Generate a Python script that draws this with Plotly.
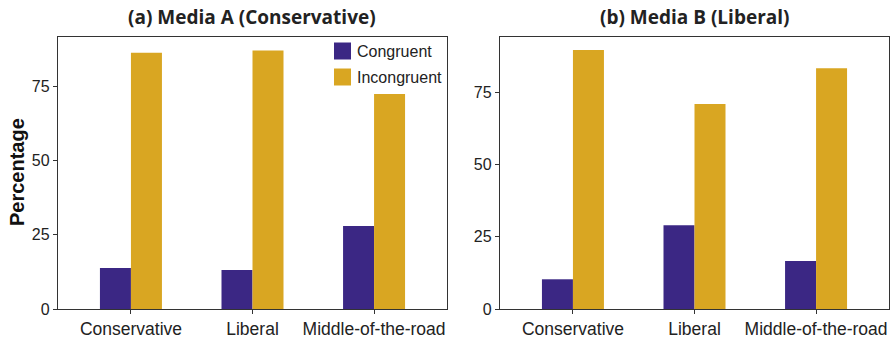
import plotly.graph_objects as go

# Survey results: share of respondents by political leaning
categories = ["Conservative", "Liberal", "Middle-of-the-road"]
series_names = ["Congruent", "Incongruent"]
media_a_congruent = [13.8, 13.1, 27.9]
media_a_incongruent = [86.2, 87.0, 72.3]
media_b_congruent = [10.3, 29.0, 16.6]
media_b_incongruent = [89.8, 71.1, 83.5]
panel_titles = ["(a) Media A (Conservative)", "(b) Media B (Liberal)"]
y_ticks = [0, 25, 50, 75]

PURPLE = "#3b2784"
GOLD = "#d9a622"
W, H = 892, 338
M_T, M_B = 37, 29

fig = go.Figure()

panels = [
    ("x", "y", media_a_congruent, media_a_incongruent),
    ("x2", "y2", media_b_congruent, media_b_incongruent),
]
for xa, ya, cong, incong in panels:
    fig.add_trace(go.Bar(x=categories, y=cong, name=series_names[0],
                         marker=dict(color=PURPLE, line_width=0),
                         xaxis=xa, yaxis=ya, showlegend=False))
    fig.add_trace(go.Bar(x=categories, y=incong, name=series_names[1],
                         marker=dict(color=GOLD, line_width=0),
                         xaxis=xa, yaxis=ya, showlegend=False))

dom_a = [58 / W, 447 / W]
dom_b = [500 / W, 889 / W]

tick_font = dict(family="Liberation Sans, Arial, sans-serif", size=17.5, color="#222")
ytick_font = dict(family="Liberation Sans, Arial, sans-serif", size=16, color="#222")

common_x = dict(type="category", range=[-0.6, 2.6], showgrid=False, zeroline=False,
                showline=True, linecolor="#333", linewidth=1.3, mirror=True,
                ticks="outside", ticklen=4, tickcolor="#333", tickfont=tick_font)
common_y = dict(tickvals=y_ticks, showgrid=False, zeroline=False,
                showline=True, linecolor="#333", linewidth=1.3, mirror=True,
                ticks="outside", ticklen=4, tickcolor="#333", tickfont=ytick_font)

fig.update_layout(
    width=W, height=H,
    margin=dict(l=0, r=0, t=M_T, b=M_B),
    paper_bgcolor="white", plot_bgcolor="white",
    barmode="group", bargap=0.49, bargroupgap=0,
    xaxis=dict(domain=dom_a, anchor="y", **common_x),
    yaxis=dict(domain=[0, 1], anchor="x", range=[0, 91.5], **common_y),
    xaxis2=dict(domain=dom_b, anchor="y2", **common_x),
    yaxis2=dict(domain=[0, 1], anchor="x2", range=[0, 94.3], **common_y),
)

plot_h = H - M_T - M_B


def py(px):
    """Convert a pixel row (from top of page) to paper y."""
    return (H - M_B - px) / plot_h


title_font = dict(family="Open Sans, sans-serif", size=19, color="#222", weight=700)
for title, dom in zip(panel_titles, [dom_a, dom_b]):
    fig.add_annotation(text=title, xref="paper", yref="paper",
                       x=(dom[0] + dom[1]) / 2, y=py(17.5),
                       xanchor="center", yanchor="middle", showarrow=False,
                       font=title_font)

# Y-axis label
fig.add_annotation(text="<b>Percentage</b>", xref="paper", yref="paper",
                   x=17 / W, y=py(172), xanchor="center", yanchor="middle",
                   textangle=-90, showarrow=False,
                   font=dict(family="Liberation Sans, Arial, sans-serif", size=20, color="#111"))

# Legend inside panel (a)
legend_rows = [(series_names[0], PURPLE, 42.5), (series_names[1], GOLD, 68.5)]
for name, color, top in legend_rows:
    fig.add_shape(type="rect", xref="paper", yref="paper",
                  x0=334 / W, x1=351 / W, y0=py(top + 17), y1=py(top),
                  fillcolor=color, line_width=0)
    fig.add_annotation(text=name, xref="paper", yref="paper",
                       x=355 / W, y=py(top + 8.5), xanchor="left", yanchor="middle",
                       showarrow=False,
                       font=dict(family="Liberation Sans, Arial, sans-serif", size=16, color="#222"))

fig.write_html("out.html")
